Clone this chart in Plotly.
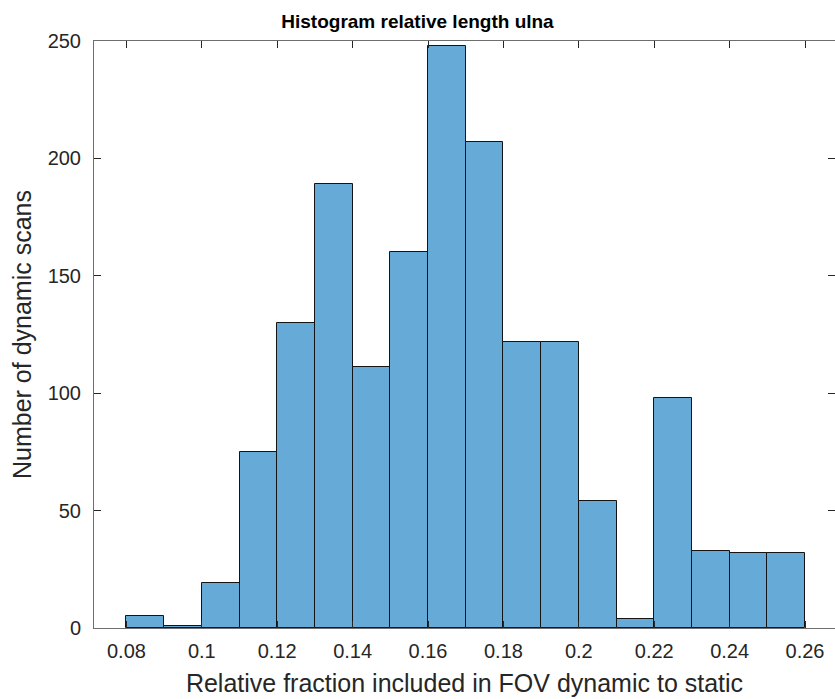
import plotly.graph_objects as go

bin_edges = [0.08, 0.09, 0.10, 0.11, 0.12, 0.13, 0.14, 0.15, 0.16, 0.17,
             0.18, 0.19, 0.20, 0.21, 0.22, 0.23, 0.24, 0.25, 0.26]
counts = [5, 1, 19, 75, 130, 189, 111, 160, 248, 207,
          122, 122, 54, 4, 98, 33, 32, 32]
x_tick_vals = [0.08, 0.10, 0.12, 0.14, 0.16, 0.18, 0.20, 0.22, 0.24, 0.26]
x_tick_text = ["0.08", "0.1", "0.12", "0.14", "0.16", "0.18", "0.2", "0.22", "0.24", "0.26"]
y_tick_vals = [0, 50, 100, 150, 200, 250]

centers = [(bin_edges[i] + bin_edges[i + 1]) / 2 for i in range(len(counts))]
widths = [bin_edges[i + 1] - bin_edges[i] for i in range(len(counts))]

FONT = "Liberation Sans, Arial, sans-serif"
AX = "rgb(38,38,38)"

fig = go.Figure()
fig.add_trace(go.Bar(
    x=centers, y=counts, width=widths,
    marker=dict(color="rgb(102,170,215)", line=dict(color="rgb(20,20,20)", width=1)),
    showlegend=False, hoverinfo="x+y",
))
# invisible trace to enable right ticks
fig.add_trace(go.Scatter(x=[centers[0]], y=[0], yaxis="y2", mode="markers",
                         marker=dict(opacity=0), showlegend=False, hoverinfo="skip"))

fig.update_layout(
    width=835, height=699,
    margin=dict(l=94, r=0, t=41, b=71),
    paper_bgcolor="white", plot_bgcolor="white",
    bargap=0,
    title=dict(text="<b>Histogram relative length ulna</b>", x=0.5, xref="container",
               xanchor="center", y=1 - 21 / 699, yref="container", yanchor="middle",
               font=dict(family=FONT, size=19, color="black")),
    font=dict(family=FONT, color=AX),
    xaxis=dict(
        range=[0.0714, 0.26795], tickvals=x_tick_vals, ticktext=x_tick_text,
        ticks="inside", ticklen=7, tickcolor=AX, tickwidth=1,
        showline=True, linecolor="rgb(110,110,110)", linewidth=1, mirror="ticks",
        showgrid=False, zeroline=False,
        tickfont=dict(family=FONT, size=20, color=AX),
        ticklabelstandoff=5,
        title=dict(text="Relative fraction included in FOV dynamic to static",
                   font=dict(family=FONT, size=25, color=AX), standoff=13),
        automargin=False,
    ),
    yaxis=dict(
        range=[0, 250], tickvals=y_tick_vals,
        ticks="inside", ticklen=7, tickcolor=AX, tickwidth=1,
        showline=True, linecolor="rgb(110,110,110)", linewidth=1,
        showgrid=False, zeroline=False,
        tickfont=dict(family=FONT, size=20, color=AX),
        ticklabelstandoff=8,
        title=dict(text="Number of dynamic scans",
                   font=dict(family=FONT, size=25, color=AX), standoff=8),
        automargin=False,
    ),
    yaxis2=dict(
        range=[0, 250], tickvals=y_tick_vals, overlaying="y", side="right",
        ticks="inside", ticklen=7, tickcolor=AX, showticklabels=False,
        showline=False, showgrid=False, zeroline=False,
    ),
)
fig.write_html("out.html", config={"displayModeBar": False},
               post_script="document.body.style.margin='0';")
